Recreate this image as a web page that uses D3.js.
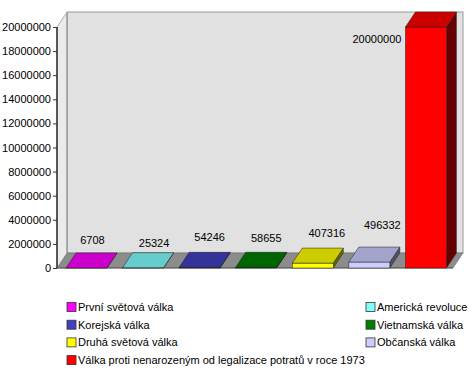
<!DOCTYPE html>
<html>
<head>
<meta charset="utf-8">
<script src="https://cdn.jsdelivr.net/npm/d3@7"></script>
<style>
  body { margin: 0; background: #fff; }
  text { font-family: "Liberation Sans", Arial, sans-serif; font-size: 11px; fill: #000; }
</style>
</head>
<body>
<svg id="chart" width="473" height="370"></svg>
<script>
// data
const categories = ["První světová válka", "Americká revoluce", "Korejská válka", "Vietnamská válka",
    "Druhá světová válka", "Občanská válka", "Válka proti nenarozeným od legalizace potratů v roce 1973"];
const values = [6708, 25324, 54246, 58655, 407316, 496332, 20000000];
const colors = ["#FF00FF", "#80FFFF", "#4040C0", "#008000", "#FFFF00", "#CCCCFF", "#FF0000"];
const yMax = 20000000;
const tickStep = 2000000;

// label nudges (layout only) - the original staggers some value labels
const labelShift = [[1, 9], [6, 6], [5, 11], [5, 10], [9, 11], [8, 18], [0, 0]];

var svg = d3.select("#chart");
var pLeft = 57, pRight = 453, pTop = 27, pBottom = 268,
    dx = 10, dy = 15, barOff = 9, barW = 41;

var x = d3.scaleBand().domain(categories).range([pLeft, pRight]).padding(0);
var y = d3.scaleLinear().domain([0, yMax]).range([pBottom, pTop]);

function shade(c, k){
    var r = d3.rgb(c);
    return d3.rgb(r.r * k, r.g * k, r.b * k).formatHex();
}

// back wall
svg.append("rect")
    .attr("x", pLeft + dx).attr("y", pTop - dy)
    .attr("width", pRight - pLeft).attr("height", pBottom - pTop)
    .attr("fill", "#E1E1E1").attr("stroke", "#9A9A9A").attr("stroke-width", 1);
// left side wall
svg.append("path")
    .attr("d", d3.line()([[pLeft, pTop], [pLeft + dx, pTop - dy], [pLeft + dx, pBottom - dy], [pLeft, pBottom]]) + "Z")
    .attr("fill", "#EBEBEB").attr("stroke", "none");
svg.append("line")
    .attr("x1", pLeft + dx).attr("x2", pLeft + dx).attr("y1", pTop - dy).attr("y2", pBottom - dy)
    .attr("stroke", "#9A9A9A").attr("stroke-width", 1.5);
svg.append("line")
    .attr("x1", pLeft).attr("y1", pTop).attr("x2", pLeft + dx).attr("y2", pTop - dy)
    .attr("stroke", "#B0B0B0");
// floor
svg.append("path")
    .attr("d", d3.line()([[pLeft, pBottom], [pLeft + dx, pBottom - dy], [pRight + dx, pBottom - dy], [pRight, pBottom]]) + "Z")
    .attr("fill", "#8C8C8C").attr("stroke", "#6E6E6E").attr("stroke-width", 0.6);

// y axis
var yAxis = d3.axisLeft(y)
    .tickValues(d3.range(0, yMax + 1, tickStep))
    .tickFormat(d3.format("d"))
    .tickSize(4).tickPadding(2);
var ax = svg.append("g").attr("transform", "translate(" + pLeft + ",0)").call(yAxis);
ax.select(".domain").attr("d", "M0," + pTop + "V" + pBottom).attr("stroke", "#222").attr("stroke-width", 1.5);
ax.selectAll(".tick line").attr("stroke", "#333");
ax.selectAll("text").attr("font-size", 11).attr("font-family", "Liberation Sans, Arial, sans-serif").attr("fill", "#000");
svg.append("line").attr("x1", pLeft).attr("x2", pRight).attr("y1", pBottom).attr("y2", pBottom)
    .attr("stroke", "#444").attr("stroke-width", 0.8);

// bars
var bars = svg.append("g").selectAll("g").data(values).join("g");
bars.each(function(v, i){
    var g = d3.select(this);
    var x0 = x(categories[i]) + barOff, yt = y(v), c = colors[i];
    var line = d3.line();
    g.append("path")
        .attr("d", line([[x0 + barW, yt], [x0 + barW + dx, yt - dy], [x0 + barW + dx, pBottom - dy], [x0 + barW, pBottom]]) + "Z")
        .attr("fill", shade(c, 0.4)).attr("stroke", "#222").attr("stroke-width", 0.5);
    g.append("rect")
        .attr("x", x0).attr("y", yt).attr("width", barW).attr("height", pBottom - yt)
        .attr("fill", c).attr("stroke", "#222").attr("stroke-width", 0.5);
    g.append("path")
        .attr("d", line([[x0, yt], [x0 + dx, yt - dy], [x0 + barW + dx, yt - dy], [x0 + barW, yt]]) + "Z")
        .attr("fill", shade(c, 0.8)).attr("stroke", "#222").attr("stroke-width", 0.5);

    // value label
    var lab = g.append("text").text(v);
    if (yt - dy - 12 < pTop - dy) {
        lab.attr("x", x0 - 4).attr("y", yt + 16).attr("text-anchor", "end");
    } else {
        lab.attr("x", x0 + (barW + dx) / 2 + labelShift[i][0])
           .attr("y", yt - dy - labelShift[i][1])
           .attr("text-anchor", "middle");
    }
});

// legend
var legX = [67, 366], legY0 = 307, legStep = 17.7;
var leg = svg.append("g").selectAll("g").data(categories).join("g")
    .attr("transform", (d, i) => "translate(" + legX[i % 2] + "," + (legY0 + Math.floor(i / 2) * legStep) + ")");
leg.append("rect")
    .attr("x", 0).attr("y", -4.5).attr("width", 9).attr("height", 9)
    .attr("fill", (d, i) => colors[i]).attr("stroke", "#333").attr("stroke-width", 0.8);
leg.append("text")
    .attr("x", 11).attr("y", 4)
    .text(d => d);
</script>
</body>
</html>
